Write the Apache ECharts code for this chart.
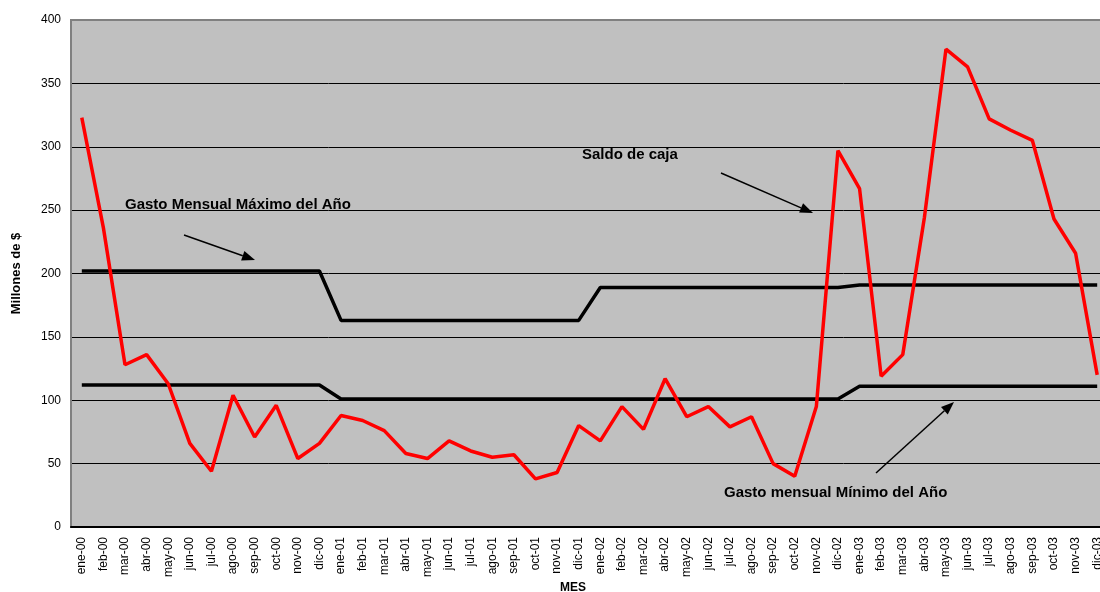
<!DOCTYPE html>
<html>
<head>
<meta charset="utf-8">
<script src="https://cdn.jsdelivr.net/npm/echarts@6/dist/echarts.min.js"></script>
<style>
  html, body { margin: 0; padding: 0; background: #fff; }
  #chart { width: 1100px; height: 592px; }
</style>
</head>
<body>
<div id="chart"></div>
<script>
const years = ["00", "01", "02", "03"];
const monthNames = ["ene", "feb", "mar", "abr", "may", "jun", "jul", "ago", "sep", "oct", "nov", "dic"];
const months = years.flatMap((y) => monthNames.map((m) => `${m}-${y}`));

// Saldo de caja (millones)
const saldoCaja = [
  323, 236, 128, 136, 113, 66, 44, 104, 71, 96, 54, 66,
  88, 84, 76, 58, 54, 68, 60, 55, 57, 38, 43, 80,
  68, 95, 77, 117, 87, 95, 79, 87, 50, 40, 95, 297,
  267, 119, 136, 244, 377, 363, 322, 313, 305, 243, 216, 120,
];
// gasto mensual maximo / minimo de cada año
const gastoMaxAnual = [202, 163, 189, 191];
const gastoMinAnual = [112, 101, 101, 111];
const gastoMax = gastoMaxAnual.flatMap((v) => Array(12).fill(v));
const gastoMin = gastoMinAnual.flatMap((v) => Array(12).fill(v));

const yTicks = { min: 0, max: 400, interval: 50 };

const font = "'Liberation Sans', Arial, sans-serif";

function arrow(x1, y1, x2, y2) {
  const a = Math.atan2(y2 - y1, x2 - x1);
  const len = 13, half = 5;
  const bx = x2 - len * Math.cos(a), by = y2 - len * Math.sin(a);
  const px = -Math.sin(a) * half, py = Math.cos(a) * half;
  return [
    { type: "line", shape: { x1, y1, x2: bx, y2: by }, style: { stroke: "#000", lineWidth: 1.5 }, z: 100 },
    {
      type: "polygon",
      shape: { points: [[x2, y2], [bx + px, by + py], [bx - px, by - py]] },
      style: { fill: "#000" },
      z: 100,
    },
  ];
}

function label(text, x, y) {
  return {
    type: "text",
    x, y,
    style: { text, fill: "#000", font: `bold 15px ${font}`, textVerticalAlign: "middle" },
    z: 100,
  };
}

const chart = echarts.init(document.getElementById("chart"));
chart.setOption({
  animation: false,
  backgroundColor: "#fff",
  textStyle: { fontFamily: font },
  grid: {
    left: 71, top: 20, width: 1037, height: 507,
    show: true, backgroundColor: "#c0c0c0", borderColor: "#808080", borderWidth: 2,
    outerBoundsMode: "none",
  },
  xAxis: {
    type: "category",
    data: months,
    boundaryGap: true,
    axisLine: { lineStyle: { color: "#000", width: 2 } },
    axisTick: { interval: 0, length: 5, lineStyle: { color: "#000", width: 2 } },
    axisLabel: { interval: 0, rotate: 90, fontSize: 12, color: "#000", margin: 10 },
    splitLine: { show: false },
  },
  yAxis: {
    type: "value",
    min: yTicks.min, max: yTicks.max, interval: yTicks.interval,
    name: "Millones de $",
    nameLocation: "middle",
    nameRotate: 90,
    nameGap: 48,
    nameTextStyle: { fontSize: 13, fontWeight: "bold", color: "#000" },
    axisLine: { show: true, lineStyle: { color: "#808080", width: 2 } },
    axisTick: { show: false },
    axisLabel: { fontSize: 12, color: "#000", margin: 10 },
    splitLine: { showMaxLine: false, showMinLine: false, lineStyle: { color: "#000", width: 1 } },
  },
  series: [
    {
      name: "Gasto Mensual Máximo del Año",
      type: "line", data: gastoMax, showSymbol: false,
      lineStyle: { color: "#000", width: 3.5 }, z: 3,
    },
    {
      name: "Gasto mensual Mínimo del Año",
      type: "line", data: gastoMin, showSymbol: false,
      lineStyle: { color: "#000", width: 3.5 }, z: 3,
    },
    {
      name: "Saldo de caja",
      type: "line", data: saldoCaja, showSymbol: false,
      lineStyle: { color: "#ff0000", width: 3.5 }, z: 4,
    },
  ],
  graphic: [
    label("Gasto Mensual Máximo del Año", 125, 205),
    label("Saldo de caja", 582, 155),
    label("Gasto mensual Mínimo del Año", 724, 493),
    ...arrow(184, 235, 255, 260),
    ...arrow(721, 173, 813, 213),
    ...arrow(876, 473, 954, 402),
    {
      type: "text", x: 573, y: 588,
      style: { text: "MES", fill: "#000", font: `bold 12px ${font}`, align: "center", textVerticalAlign: "middle" },
    },
  ],
});
</script>
</body>
</html>
